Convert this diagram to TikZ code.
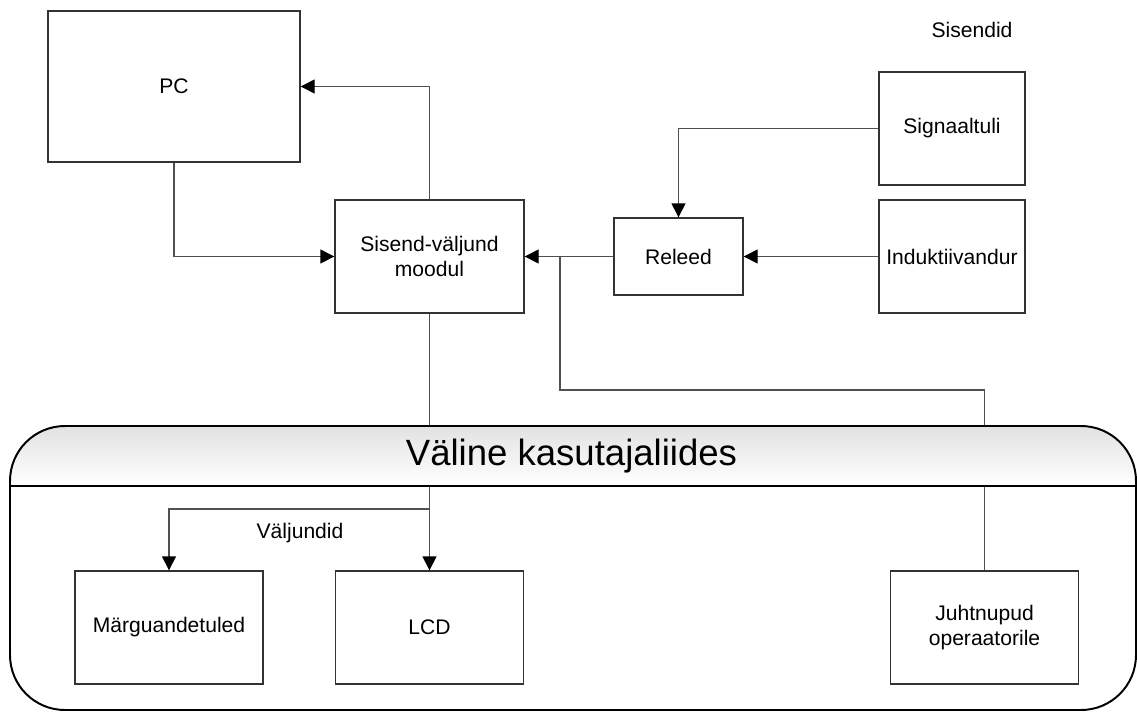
\documentclass[tikz,border=0pt]{standalone}
\usepackage{fontspec}
\setmainfont{Liberation Sans}
\usetikzlibrary{arrows.meta,positioning,calc}
\definecolor{boxLine}{HTML}{333333}
\definecolor{flowLine}{HTML}{505050}
\definecolor{headTop}{HTML}{E2E2E2}

\begin{document}
\begin{tikzpicture}[
      block/.style={rectangle, draw=boxLine, fill=white, line width=1pt, minimum width=4.7cm, minimum height=2.825cm, inner sep=2pt, align=center, font=\fontsize{15}{18}\selectfont},
      flow/.style={-{Triangle[length=3.5mm, width=3.5mm, color=black]}, line width=1pt, draw=flowLine},
      wire/.style={line width=1pt, draw=flowLine},
      heading/.style={font=\fontsize{15}{18}\selectfont},
      title/.style={font=\fontsize{26}{30}\selectfont},
      frame/.style={draw=black, line width=1.4pt, rounded corners=1.375cm}
    ]
      \useasboundingbox (0,0) rectangle (28.425,-17.775);
      % upper part
      \node[block, minimum width=6.3cm, minimum height=3.775cm] (pc) at (4.35,-2.1625) {PC};
      \node[block, minimum width=4.725cm] (mod) at (10.7375,-6.4125) {Sisend-väljund\\moodul};
      \node[block, minimum width=3.225cm, minimum height=1.925cm] (rel) at (16.9625,-6.4125) {Releed};
      \node[block, minimum width=3.65cm] (sig) at (23.8,-3.2125) {Signaaltuli};
      \node[block, minimum width=3.65cm] (ind) at (23.8,-6.4125) {Induktiivandur};
      \node[heading] (sisendid) at (24.3,-0.75) {Sisendid};
      % lower part
      \node[block] (mar) at (4.225,-15.6875) {Märguandetuled};
      \node[block] (lcd) at (10.7375,-15.6875) {LCD};
      \node[block] (juht) at (24.6125,-15.6875) {Juhtnupud\\operaatorile};
      \node[heading] (valjundid) at (7.5,-13.325) {Väljundid};
      \coordinate (tap) at (14,-6.4125);
      \coordinate (tapLow) at (14,-9.75);
      \coordinate (split) at (10.7375,-12.725);
      \draw[flow] (pc.south) |- (mod.west);
      \draw[flow] (mod.north) |- (pc.east);
      \draw[flow] (rel.west) -- (mod.east);
      \draw[flow] (sig.west) -| (rel.north);
      \draw[flow] (ind.west) -- (rel.east);
      \draw[wire] (juht.north) |- (tapLow) -- (tap);
      \draw[flow] (mod.south) -- (lcd.north);
      \draw[flow] (split) -| (mar.north);
      % container
      \begin{scope}
        \clip[rounded corners=1.375cm] (0.25,-10.65) rectangle (28.4,-17.75);
        \shade[top color=headTop, bottom color=white] (0.25,-10.65) rectangle (28.4,-12.15);
      \end{scope}
      \draw[frame] (0.25,-10.65) rectangle (28.4,-17.75);
      \draw[line width=1.4pt] (0.25,-12.15) -- (28.4,-12.15);
      \node[title] (ui) at (14.2875,-11.4) {Väline kasutajaliides};
    \end{tikzpicture}
\end{document}
